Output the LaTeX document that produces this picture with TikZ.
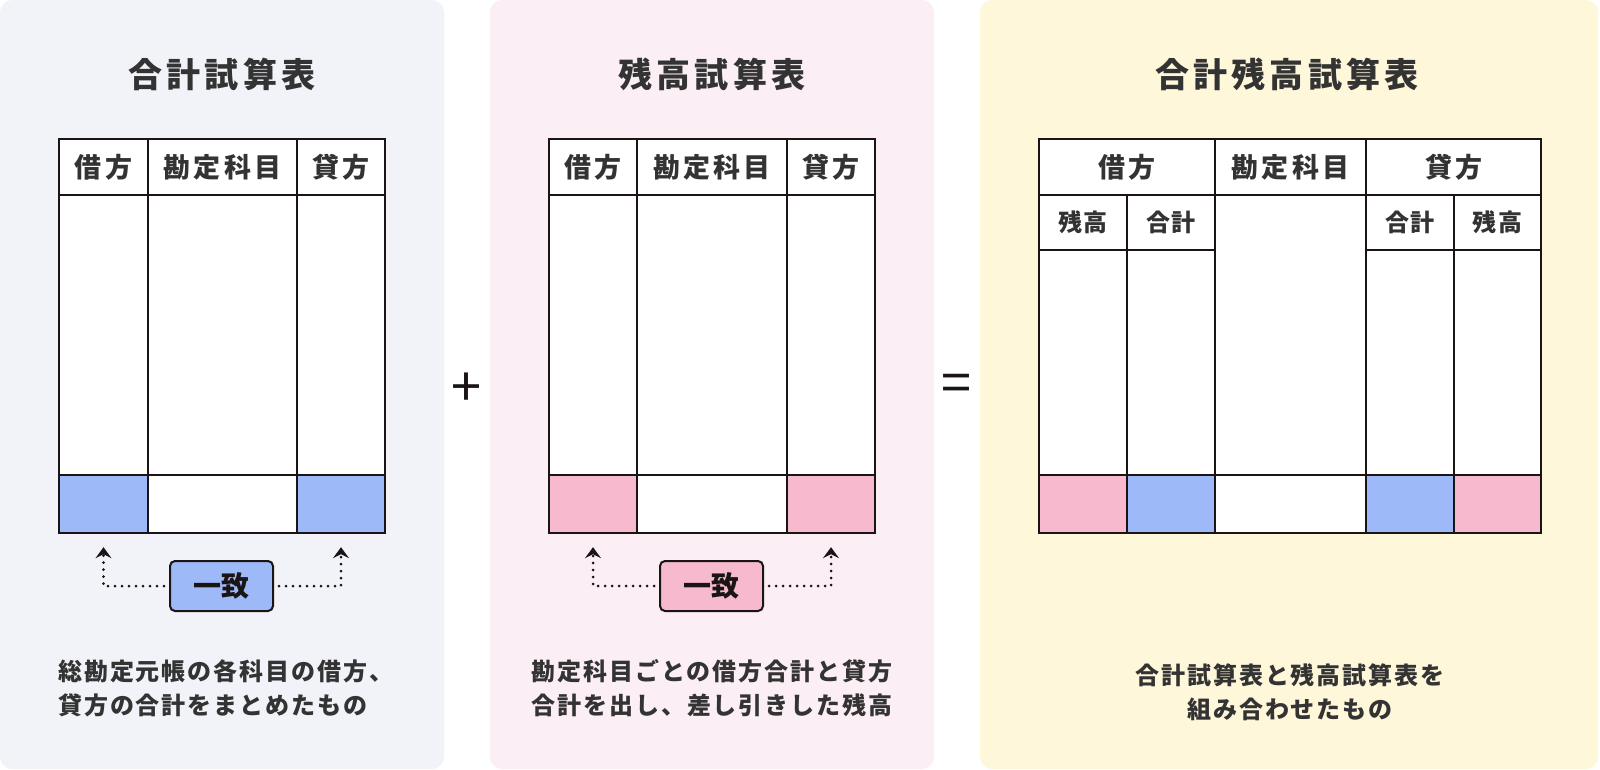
\documentclass[tikz,border=0pt]{standalone}
\usepackage{fontspec}
\setmainfont{Noto Sans CJK JP}
\usetikzlibrary{arrows.meta,positioning,calc}
\definecolor{panelgrey}{RGB}{242,243,249}
\definecolor{panelpink}{RGB}{251,238,245}
\definecolor{panelyellow}{RGB}{254,247,218}
\definecolor{sumblue}{RGB}{158,185,247}
\definecolor{balpink}{RGB}{247,185,206}
\definecolor{inkdark}{RGB}{26,20,20}
\definecolor{textgrey}{RGB}{51,51,51}

\begin{document}
\begin{tikzpicture}[x=1pt,y=-1pt,
    panel/.style={rounded corners=12pt},
    grid/.style={draw=inkdark,line width=2pt},
    cell/.style={inner sep=0pt,minimum width=88pt,minimum height=58pt},
    title/.style={inner sep=0pt,text=textgrey,font=\fontsize{34}{40}\selectfont\bfseries\addfontfeature{LetterSpace=12}},
    head/.style={inner sep=0pt,text=textgrey,font=\fontsize{27}{30}\selectfont\bfseries\addfontfeature{LetterSpace=12}},
    subhead/.style={inner sep=0pt,text=textgrey,font=\fontsize{24}{26}\selectfont\bfseries\addfontfeature{LetterSpace=8}},
    note/.style={inner sep=0pt,text=textgrey,font=\fontsize{24}{34}\selectfont\bfseries\addfontfeature{LetterSpace=8}},
    matchbox/.style={draw=inkdark,line width=2pt,rounded corners=5pt,minimum width=103pt,minimum height=50pt,
      text=inkdark,font=\fontsize{28}{30}\selectfont\bfseries},
    dotarrow/.style={inkdark,line width=3pt,line cap=round,dash pattern=on 0pt off 7pt,shorten <=5pt,
      -{Stealth[length=11pt,width=16pt,inset=4pt]}},
    op/.style={inner sep=0pt,text=inkdark,font=\fontsize{54}{54}\selectfont}
  ]
  \useasboundingbox (0,0) rectangle (1600,770);
  % panels
  \fill[panelgrey,panel] (0,0) rectangle (444,769);
  \fill[panelpink,panel] (490,0) rectangle (934,769);
  \fill[panelyellow,panel] (980,0) rectangle (1598,769);

  % --- left: totals trial balance
  \node[title] (gtitle) at (222,74) {合計試算表};
  \fill[white] (59,139) rectangle (385,533);
  \node[cell,fill=sumblue] (gdr) at (103.5,504) {};
  \node[cell,fill=sumblue] (gcr) at (341,504) {};
  \draw[grid] (59,139) rectangle (385,533);
  \draw[grid] (59,195) -- (385,195) (59,475) -- (385,475)
    (148,139) -- (148,533) (297,139) -- (297,533);
  \node[head] at (103.5,167) {借方};
  \node[head] at (222.5,167) {勘定科目};
  \node[head] at (341,167) {貸方};
  \node[matchbox,fill=sumblue] (gmatch) at (221.5,586) {一致};
  \draw[dotarrow] (gmatch.west) -| ([yshift=-14pt]gdr.south);
  \draw[dotarrow] (gmatch.east) -| ([yshift=-14pt]gcr.south);
  \node[note,align=left,anchor=west] (gnote) at (58,688) {総勘定元帳の各科目の借方、\\貸方の合計をまとめたもの};

  \node[op] (plus) at (466,390) {+};

  % --- middle: balances trial balance
  \node[title] (btitle) at (712,74) {残高試算表};
  \fill[white] (549,139) rectangle (875,533);
  \node[cell,fill=balpink] (bdr) at (593,504) {};
  \node[cell,fill=balpink] (bcr) at (831,504) {};
  \draw[grid] (549,139) rectangle (875,533);
  \draw[grid] (549,195) -- (875,195) (549,475) -- (875,475)
    (637,139) -- (637,533) (787,139) -- (787,533);
  \node[head] at (593,167) {借方};
  \node[head] at (712,167) {勘定科目};
  \node[head] at (831,167) {貸方};
  \node[matchbox,fill=balpink] (bmatch) at (711.5,586) {一致};
  \draw[dotarrow] (bmatch.west) -| ([yshift=-14pt]bdr.south);
  \draw[dotarrow] (bmatch.east) -| ([yshift=-14pt]bcr.south);
  \node[note,align=center] (bnote) at (712,688) {勘定科目ごとの借方合計と貸方\\合計を出し、差し引きした残高};

  \node[op] (equals) at (956,388) {=};

  % --- right: combined
  \node[title] (ctitle) at (1287,74) {合計残高試算表};
  \fill[white] (1039,139) rectangle (1541,533);
  \node[cell,fill=balpink] at (1083,504) {};
  \node[cell,fill=sumblue] at (1171,504) {};
  \node[cell,fill=sumblue] at (1410,504) {};
  \node[cell,fill=balpink] at (1497.5,504) {};
  \draw[grid] (1039,139) rectangle (1541,533);
  \draw[grid] (1039,195) -- (1541,195) (1039,475) -- (1541,475)
    (1039,250) -- (1215,250) (1366,250) -- (1541,250)
    (1127,195) -- (1127,533) (1215,139) -- (1215,533)
    (1366,139) -- (1366,533) (1454,195) -- (1454,533);
  \node[head] at (1127,167) {借方};
  \node[head] at (1290.5,167) {勘定科目};
  \node[head] at (1454,167) {貸方};
  \node[subhead] at (1083,222) {残高};
  \node[subhead] at (1171,222) {合計};
  \node[subhead] at (1410,222) {合計};
  \node[subhead] at (1497.5,222) {残高};
  \node[note,align=center] (cnote) at (1290,692) {合計試算表と残高試算表を\\組み合わせたもの};
\end{tikzpicture}
\end{document}
